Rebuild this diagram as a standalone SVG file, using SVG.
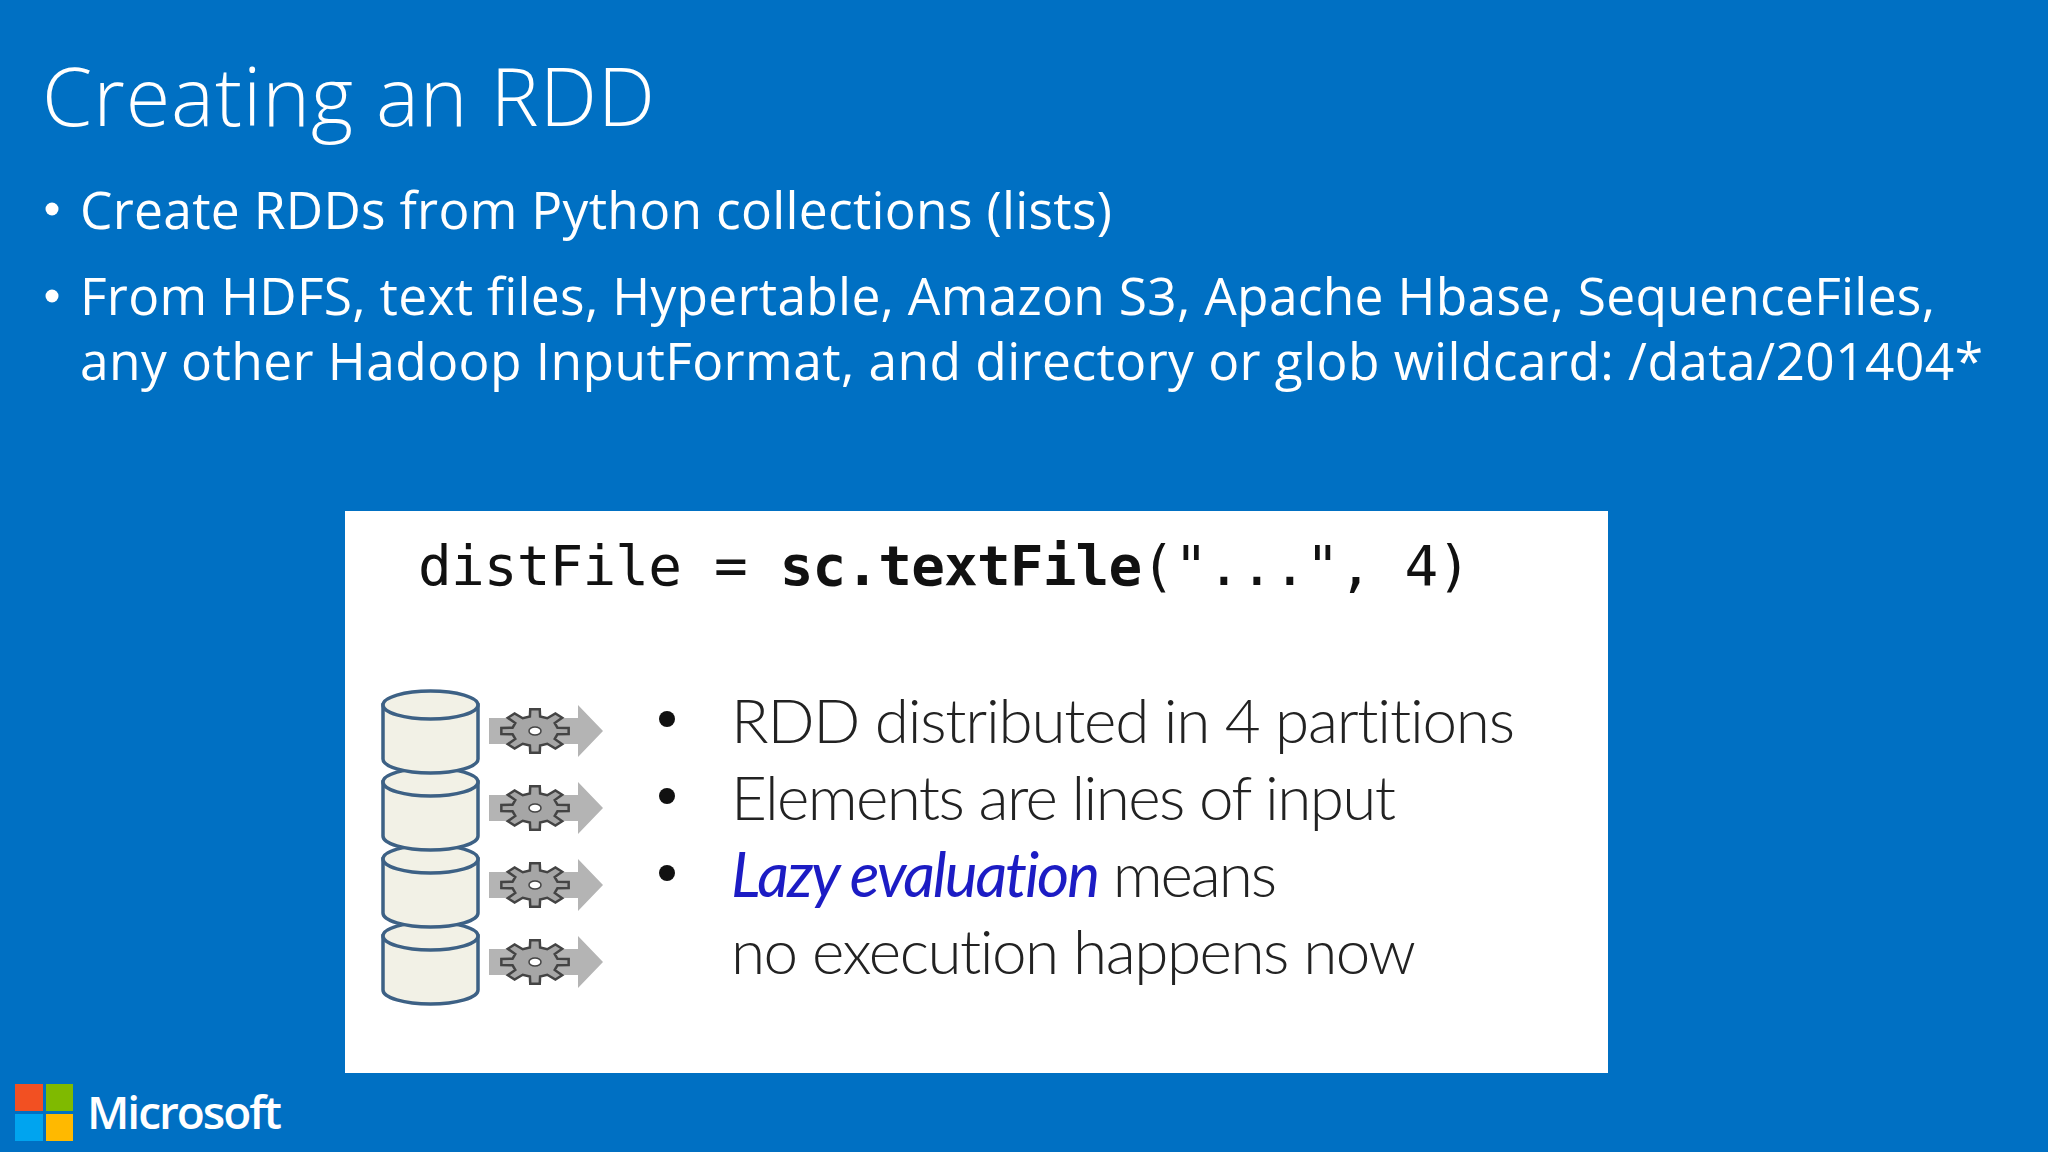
<svg xmlns="http://www.w3.org/2000/svg" width="2048" height="1152" viewBox="0 0 2048 1152">
<style>
.body{font-family:"Open Sans","Noto Sans",sans-serif;font-size:51.500px;fill:#fff}
.p{font-family:Lato,"Noto Sans",sans-serif;font-weight:300;font-size:62px;fill:#222;font-variant-ligatures:none}
.code{font-family:"DejaVu Sans Mono","Liberation Mono",monospace;font-size:56px;fill:#111}
.cyl{fill:#f2f1e6;stroke:#3d6185;stroke-width:3.5}
.arr{fill:#b4b4b4}
.gear{fill:#a6a6a6;stroke:#444;stroke-width:2.500;vector-effect:non-scaling-stroke}
</style>
<defs>
<g id="part">
<path class="arr" d="M489 -13H578V-26L603 0L578 26V13H489Z"/>
<polygon class="gear" transform="translate(535 0) scale(.34 .22)" points="66,-15 99,-14 99,14 66,15 58,36 80,60 60,80 36,58 15,66 14,99 -14,99 -15,66 -36,58 -60,80 -80,60 -58,36 -66,15 -99,14 -99,-14 -66,-15 -58,-36 -80,-60 -60,-80 -36,-58 -15,-66 -14,-99 14,-99 15,-66 36,-58 60,-80 80,-60 58,-36"/>
<ellipse cx="535" cy="0" rx="6" ry="4" fill="#fff" stroke="#444" stroke-width="1.500"/>
</g>
<g id="cyl">
<path class="cyl" d="M383 0V54A47.500 14 0 0 0 478 54V0Z"/>
<ellipse class="cyl" cx="430.500" cy="0" rx="47.500" ry="14"/>
</g>
</defs>
<rect width="2048" height="1152" fill="#0070c3"/>
<text id="title" x="42" y="126" font-family="Open Sans, Noto Sans, sans-serif" font-weight="300" font-size="81" fill="#fff" textLength="613">Creating an RDD</text>
<g id="bullets">
<circle cx="52" cy="209" r="6.500" fill="#fff"/>
<circle cx="52" cy="296" r="6.500" fill="#fff"/>
<text class="body" x="80" y="229" textLength="1032">Create RDDs from Python collections (lists)</text>
<text class="body" x="80" y="315" textLength="1855">From HDFS, text files, Hypertable, Amazon S3, Apache Hbase, SequenceFiles,</text>
<text class="body" x="80" y="380" textLength="1903">any other Hadoop InputFormat, and directory or glob wildcard: /data/201404*</text>
</g>
<g id="panel">
<rect x="345" y="511" width="1263" height="562" fill="#fff"/>
<text class="code" x="418" y="585" textLength="1053">distFile = <tspan font-weight="700">sc.textFile</tspan>("...", 4)</text>
</g>
<g id="cylinders">
<use href="#cyl" y="936"/>
<use href="#cyl" y="859"/>
<use href="#cyl" y="782"/>
<use href="#cyl" y="705"/>
</g>
<g id="arrows">
<use href="#part" y="731"/>
<use href="#part" y="808"/>
<use href="#part" y="885"/>
<use href="#part" y="962"/>
</g>
<g id="points">
<circle cx="667" cy="719" r="8" fill="#111"/>
<circle cx="667" cy="796" r="8" fill="#111"/>
<circle cx="667" cy="873" r="8" fill="#111"/>
<text class="p" x="731" y="743" textLength="784">RDD distributed in 4 partitions</text>
<text class="p" x="731" y="820" textLength="665">Elements are lines of input</text>
<text class="p" x="731" y="897" textLength="546"><tspan font-style="italic" font-weight="400" fill="#1c1cc4">Lazy evaluation</tspan> means</text>
<text class="p" x="731" y="974" textLength="685">no execution happens now</text>
</g>
<g id="logo">
<rect x="15" y="1084" width="28" height="27" fill="#f25022"/>
<rect x="46" y="1084" width="27" height="27" fill="#7fba00"/>
<rect x="15" y="1114" width="28" height="27" fill="#00a4ef"/>
<rect x="46" y="1114" width="27" height="27" fill="#ffb900"/>
<text x="87" y="1129" font-family="Open Sans, Noto Sans, sans-serif" font-weight="600" font-size="46" fill="#fff" textLength="195">Microsoft</text>
</g>
</svg>
